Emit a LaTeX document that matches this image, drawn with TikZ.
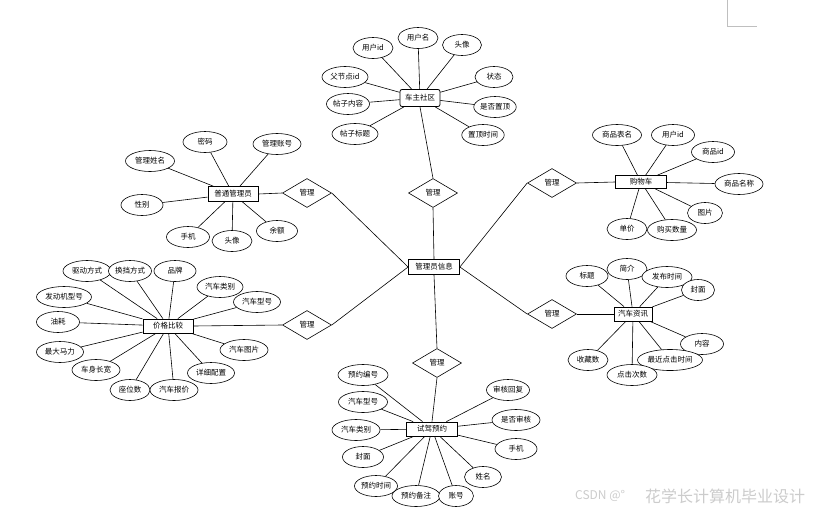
\documentclass[tikz,border=0pt]{standalone}
\usepackage{fontspec}
\newfontfamily\cjk{Noto Sans CJK SC}
\usetikzlibrary{shapes.geometric}
\begin{document}
\begin{tikzpicture}[x=1pt,y=-1pt,
  every node/.style={font=\cjk\fontsize{7.5}{8}\selectfont},
  attr/.style={ellipse,draw,fill=white,line width=0.6pt,inner sep=0pt,minimum height=21pt},
  ent/.style={rectangle,draw,fill=white,line width=0.8pt,inner sep=0pt,minimum height=14pt},
  rel/.style={diamond,draw,fill=white,line width=0.6pt,inner sep=0pt,minimum width=49pt,minimum height=29pt},
  link/.style={line width=0.6pt}]
\useasboundingbox (0,0) rectangle (815,512);
\fill[white] (0,0) rectangle (815,512);
% page corner mark
\draw[gray!50,line width=0.8pt] (727,0) -- (727,26) -- (757,26);
% entities
\node[ent,minimum width=51pt,minimum height=15pt] (M) at (434,267) {管理员信息};
\node[ent,minimum width=40pt,minimum height=17pt,rounded corners=2pt] (cs) at (420,98) {车主社区};
\node[ent,minimum width=50pt,minimum height=15pt] (pg) at (233,194) {普通管理员};
\node[ent,minimum width=50pt] (jg) at (168,326) {价格比较};
\node[ent,minimum width=51pt,minimum height=13pt] (gw) at (641,182) {购物车};
\node[ent,minimum width=38pt] (zx) at (633,314) {汽车资讯};
\node[ent,minimum width=51pt] (sj) at (432,429) {试驾预约};
% relations
\node[rel] (d1) at (433,193) {管理};
\node[rel] (d2) at (307,193) {管理};
\node[rel] (d3) at (307,325) {管理};
\node[rel] (d4) at (552,183) {管理};
\node[rel] (d5) at (552,314) {管理};
\node[rel] (d6) at (437,363) {管理};
\draw[link] (cs.south) -- (d1.north);
\draw[link] (d1.south) -- (M.north);
\draw[link] (pg.east) -- (d2.west);
\draw[link] (d2.east) -- (M.west);
\draw[link] (jg.east) -- (d3.west);
\draw[link] (d3.east) -- (M.west);
\draw[link] (gw.west) -- (d4.east);
\draw[link] (d4.west) -- (M.east);
\draw[link] (zx.west) -- (d5.east);
\draw[link] (d5.west) -- (M.east);
\draw[link] (M.south) -- (d6.north);
\draw[link] (d6.south) -- (sj.north);
% attributes
\foreach \n/\x/\y/\w/\t/\e in {
  c1/373/48/40/用户id/cs, c2/418/38/40/用户名/cs, c3/462/45/39/头像/cs,
  c4/345/77/46/父节点id/cs, c5/348/104/43/帖子内容/cs, c6/355/134/46/帖子标题/cs,
  c7/494/77/38/状态/cs, c8/495/107/41/是否置顶/cs, c9/483/135/41/置顶时间/cs,
  p1/150/161/49/管理姓名/pg, p2/205/142/44/密码/pg, p3/277/144/48/管理账号/pg,
  p4/142/205/42/性别/pg, p5/188/237/43/手机/pg, p6/232/241/40/头像/pg, p7/277/231/41/余额/pg,
  j1/87/271/48/驱动方式/jg, j2/130/271/43/换挡方式/jg, j3/175/271/42/品牌/jg,
  j4/220/287/46/汽车类别/jg, j5/257/302/47/汽车型号/jg, j6/64/297/55/发动机型号/jg,
  j7/58/322/43/油耗/jg, j8/60/352/47/最大马力/jg, j9/96/370/48/车身长宽/jg,
  j10/130/390/40/座位数/jg, j11/174/390/48/汽车报价/jg, j12/211/373/47/详细配置/jg,
  j13/244/350/48/汽车图片/jg,
  g1/617/135/49/商品表名/gw, g2/673/135/43/用户id/gw, g3/713/152/43/商品id/gw,
  g4/739/184/48/商品名称/gw, g5/705/213/35/图片/gw, g6/627/229/40/单价/gw, g7/672/230/49/购买数量/gw,
  z1/587/276/42/标题/zx, z2/627/269/40/简介/zx, z3/667/277/50/发布时间/zx,
  z4/698/290/33/封面/zx, z5/702/344/43/内容/zx, z6/670/360/65/最近点击时间/zx,
  z7/632/375/50/点击次数/zx, z8/588/360/40/收藏数/zx,
  s1/363/375/50/预约编号/sj, s2/363/402/49/汽车型号/sj, s3/356/430/48/汽车类别/sj,
  s4/363/457/41/封面/sj, s5/376/486/43/预约时间/sj, s6/416/496/48/预约备注/sj,
  s7/456/496/35/账号/sj, s8/483/477/37/姓名/sj, s9/516/449/42/手机/sj,
  s10/516/420/48/是否审核/sj, s11/508/390/43/审核回复/sj}
{
  \node[attr,minimum width=\w pt] (\n) at (\x,\y) {\t};
  \draw[link] (\n) -- (\e);
}
% watermark
\node[anchor=west,text=gray!40,font=\cjk\fontsize{12}{14}\selectfont,inner sep=0pt] (wm1) at (575,496) {CSDN @°};
\node[anchor=west,text=gray!40,font=\cjk\fontsize{16}{18}\selectfont,inner sep=0pt] (wm2) at (645,496) {花学长计算机毕业设计};
\end{tikzpicture}
\end{document}
